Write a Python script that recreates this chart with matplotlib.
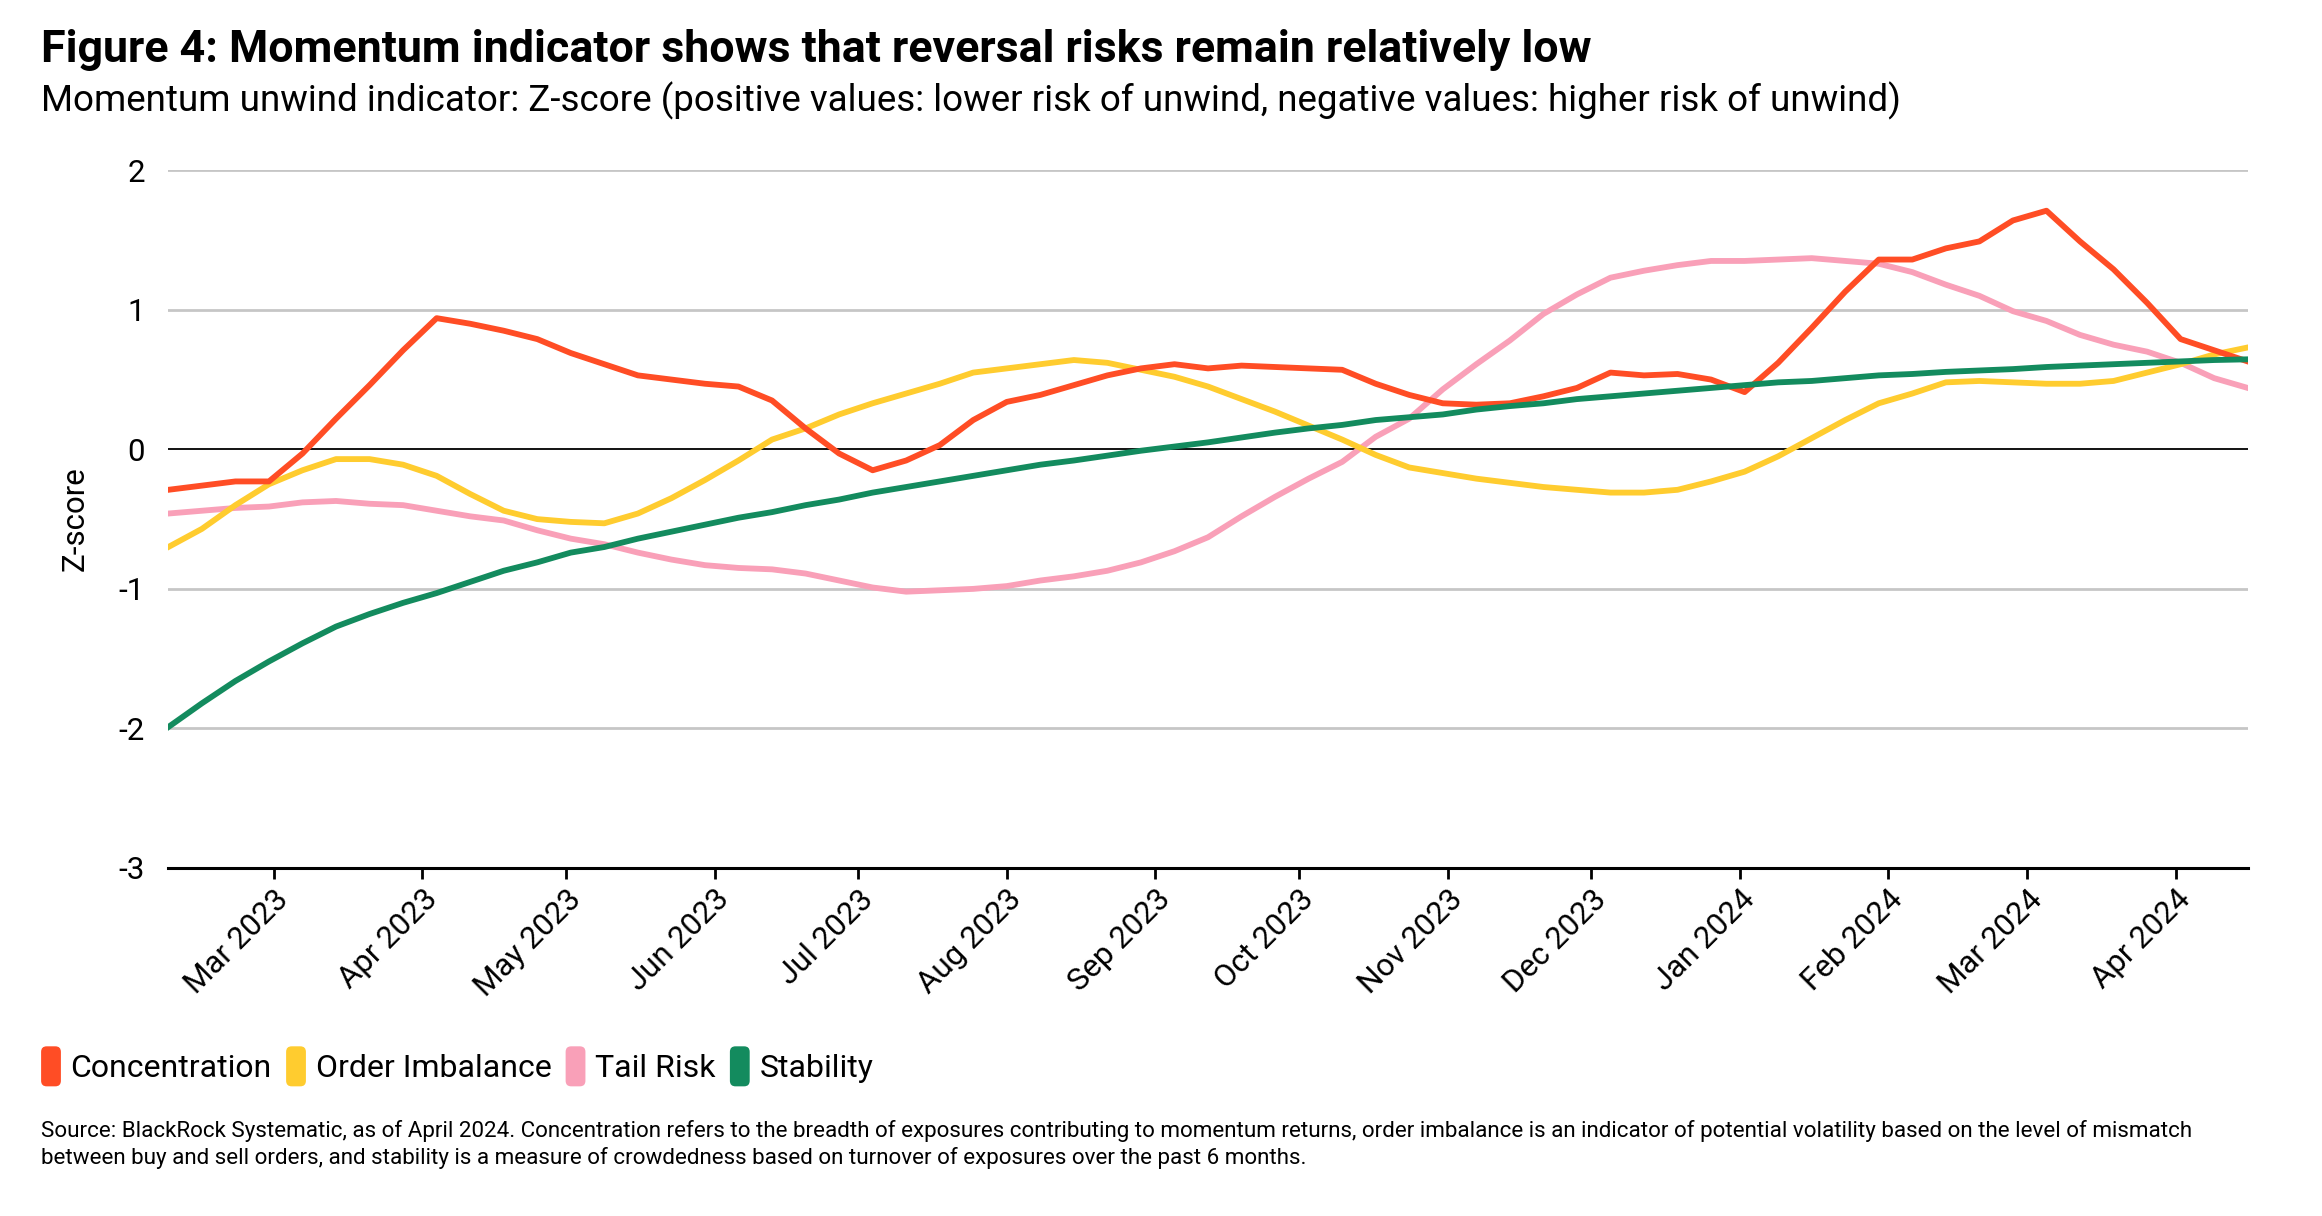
import pandas as pd
import matplotlib
matplotlib.use("Agg")
import matplotlib.pyplot as plt
import matplotlib.dates as mdates
from matplotlib.patches import Patch, FancyBboxPatch
from matplotlib.legend_handler import HandlerPatch
from matplotlib.ticker import FuncFormatter


# Weekly observations, Feb 2023 - Apr 2024
dates = pd.date_range("2023-02-07", periods=63, freq="7D")

concentration = [
    -0.29, -0.26, -0.23, -0.23, -0.03, 0.22, 0.46, 0.71, 0.94, 0.90, 0.85, 0.79, 0.69,
    0.61, 0.53, 0.50, 0.47, 0.45, 0.35, 0.15, -0.03, -0.15, -0.08, 0.03, 0.21, 0.34,
    0.39, 0.46, 0.53, 0.58, 0.61, 0.58, 0.60, 0.59, 0.58, 0.57, 0.47, 0.39,
    0.33, 0.32, 0.33, 0.38, 0.44, 0.55, 0.53, 0.54, 0.50, 0.41, 0.62, 0.87,
    1.13, 1.36, 1.36, 1.44, 1.49, 1.64, 1.71, 1.49, 1.29, 1.05, 0.79, 0.71, 0.63,
]
order_imbalance = [
    -0.70, -0.57, -0.40, -0.25, -0.15, -0.07, -0.07, -0.11, -0.19, -0.32, -0.44, -0.50, -0.52,
    -0.53, -0.46, -0.35, -0.22, -0.08, 0.07, 0.15, 0.25, 0.33, 0.40, 0.47, 0.55, 0.58,
    0.61, 0.64, 0.62, 0.57, 0.52, 0.45, 0.36, 0.27, 0.17, 0.07, -0.04, -0.13,
    -0.17, -0.21, -0.24, -0.27, -0.29, -0.31, -0.31, -0.29, -0.23, -0.16, -0.05, 0.08,
    0.21, 0.33, 0.40, 0.48, 0.49, 0.48, 0.47, 0.47, 0.49, 0.55, 0.61, 0.68, 0.73,
]
tail_risk = [
    -0.46, -0.44, -0.42, -0.41, -0.38, -0.37, -0.39, -0.40, -0.44, -0.48, -0.51, -0.58, -0.64,
    -0.68, -0.74, -0.79, -0.83, -0.85, -0.86, -0.89, -0.94, -0.99, -1.02, -1.01, -1.00, -0.98,
    -0.94, -0.91, -0.87, -0.81, -0.73, -0.63, -0.48, -0.34, -0.21, -0.09, 0.09, 0.22,
    0.43, 0.61, 0.78, 0.97, 1.11, 1.23, 1.28, 1.32, 1.35, 1.35, 1.36, 1.37,
    1.35, 1.33, 1.27, 1.18, 1.10, 0.99, 0.92, 0.82, 0.75, 0.70, 0.62, 0.51, 0.44,
]
stability = [
    -1.99, -1.82, -1.66, -1.52, -1.39, -1.27, -1.18, -1.10, -1.03, -0.95, -0.87, -0.81, -0.74,
    -0.70, -0.64, -0.59, -0.54, -0.49, -0.45, -0.40, -0.36, -0.31, -0.27, -0.23, -0.19, -0.15,
    -0.11, -0.08, -0.045, -0.01, 0.02, 0.05, 0.085, 0.12, 0.15, 0.175, 0.21, 0.23,
    0.25, 0.285, 0.31, 0.33, 0.36, 0.38, 0.40, 0.42, 0.44, 0.46, 0.48, 0.49,
    0.51, 0.53, 0.54, 0.555, 0.565, 0.575, 0.59, 0.60, 0.61, 0.62, 0.63, 0.64, 0.645,
]

series_names = ["Concentration", "Order Imbalance", "Tail Risk", "Stability"]
series_colors = ["#ff4d25", "#ffcc2f", "#f9a0b8", "#138b5e"]
y_ticks = [2, 1, 0, -1, -2, -3]

TITLE = "Figure 4: Momentum indicator shows that reversal risks remain relatively low"
SUBTITLE = ("Momentum unwind indicator: Z-score (positive values: lower risk of unwind, "
            "negative values: higher risk of unwind)")
SOURCE = ("Source: BlackRock Systematic, as of April 2024. Concentration refers to the breadth of "
          "exposures contributing to momentum returns, order imbalance is an indicator of potential "
          "volatility based on the level of mismatch\nbetween buy and sell orders, and stability is a "
          "measure of crowdedness based on turnover of exposures over the past 6 months.")

plt.rcParams["font.family"] = ["Roboto", "DejaVu Sans"]
plt.rcParams["axes.unicode_minus"] = False


class RoundedHandler(HandlerPatch):
    def create_artists(self, legend, orig_handle, xdescent, ydescent,
                       width, height, fontsize, trans):
        box = FancyBboxPatch((-xdescent, -ydescent - 0.2 * height), width, height * 1.4,
                             boxstyle="round,pad=0,rounding_size=4",
                             facecolor=orig_handle.get_facecolor(),
                             edgecolor="none", transform=trans)
        return [box]


fig = plt.figure(figsize=(23.22, 12.16), dpi=100)
ax = fig.add_axes([0.0725, 0.2862, 0.8955, 0.5738])

data = dict(zip(series_names, [concentration, order_imbalance, tail_risk, stability]))
colors = dict(zip(series_names, series_colors))

# draw order: green on top
for name in ["Tail Risk", "Order Imbalance", "Concentration", "Stability"]:
    ax.plot(dates, data[name], color=colors[name], lw=4.2, zorder=3)

ax.set_xlim(dates[0], dates[-1])
ax.set_ylim(-3, 2)
ax.set_yticks(y_ticks)
ax.yaxis.set_major_formatter(FuncFormatter(lambda v, p: f"{int(v)}"))

for y in [2, 1, -1, -2]:
    ax.axhline(y, color="#c6c6c6", lw=2, zorder=1)
ax.axhline(0, color="black", lw=1.3, zorder=2)

for side in ["top", "right", "left"]:
    ax.spines[side].set_visible(False)
ax.spines["bottom"].set_linewidth(2.2)
ax.spines["bottom"].set_zorder(4)

ax.tick_params(axis="y", length=0, pad=17, labelsize=22.5)
ax.tick_params(axis="x", length=8, width=2, pad=4, labelsize=22.5, direction="out")

ax.xaxis.set_major_locator(mdates.MonthLocator())
ax.xaxis.set_major_formatter(mdates.DateFormatter("%b %Y"))
for lab in ax.get_xticklabels():
    lab.set_rotation(45)
    lab.set_ha("right")
    lab.set_rotation_mode("anchor")

ax.set_ylabel("Z-score", fontsize=22.5)
ax.yaxis.set_label_coords(-0.038, 0.5)

# Titles
fig.text(0.0177, 0.949, TITLE, fontsize=32.2, fontweight="bold", va="baseline", ha="left")
fig.text(0.0177, 0.908, SUBTITLE, fontsize=26.5, va="baseline", ha="left")

# Legend
handles = [Patch(facecolor=colors[n], label=n) for n in series_names]
fig.legend(handles=handles, loc="center left", bbox_to_anchor=(0.0177, 0.122),
           ncol=4, frameon=False, fontsize=23, handlelength=0.62, handleheight=1.0,
           handletextpad=0.3, columnspacing=0.45, borderpad=0, borderaxespad=0,
           handler_map={Patch: RoundedHandler()})

# Source note
fig.text(0.0177, 0.0428, SOURCE, fontsize=16.1, va="baseline", ha="left", linespacing=1.3)

fig.savefig("out.png", dpi=100)
